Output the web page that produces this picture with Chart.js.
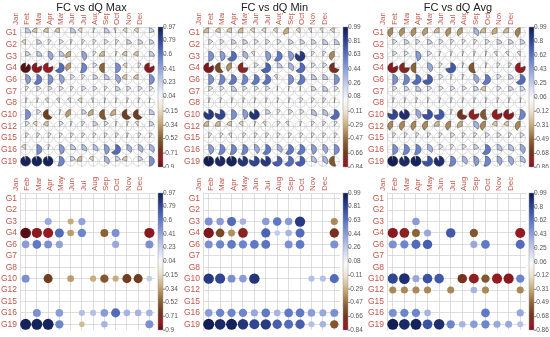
<!DOCTYPE html>
<html>
<head>
<meta charset="utf-8">
<script src="https://cdn.jsdelivr.net/npm/chart.js@4.4.1/dist/chart.umd.min.js"></script>
<style>
  body { margin: 0; background: #fff; }
  #wrap { position: relative; width: 550px; height: 337px; overflow: hidden; }
  #wrap canvas { position: absolute; }
</style>
</head>
<body>
<div id="wrap"></div>
<script>
const months = ['Jan', 'Feb', 'Mar', 'Apr', 'May', 'Jun', 'Jul', 'Aug', 'Sep', 'Oct', 'Nov', 'Dec'];
const groups = ['G1', 'G2', 'G3', 'G4', 'G6', 'G7', 'G8', 'G10', 'G12', 'G15', 'G16', 'G19'];
const titles = ['FC vs dQ Max', 'FC vs dQ Min', 'FC vs dQ Avg'];

// correlation values, one row per group, Jan..Dec
const maxVals = [
  [0.25, -0.2, -0.2, -0.2, 0.25, -0.15, 0.05, 0.25, -0.05, -0.15, -0.15, 0.2],
  [-0.15, 0.2, 0.1, 0.15, 0.05, 0.1, 0.1, 0.15, 0.1, 0.2, 0.2, 0.2],
  [0.2, 0.25, 0.4, 0.25, -0.3, 0.42, 0.1, -0.25, 0.05, -0.2, -0.2, 0.25],
  [-0.9, -0.82, -0.8, 0.65, -0.35, 0.55, 0.15, -0.5, 0.5, -0.15, 0.1, -0.82],
  [0.45, 0.6, 0.5, 0.42, 0.15, 0.1, 0.2, 0.25, 0.4, -0.2, -0.2, 0.5],
  [0.1, 0.15, 0.15, 0.15, 0.1, 0.15, 0.15, 0.1, 0.2, 0.15, 0.15, 0.15],
  [0.05, 0.05, -0.1, -0.1, -0.1, -0.15, -0.05, 0.05, 0.05, 0.05, 0.05, 0.03],
  [0.5, 0.15, -0.65, 0.05, -0.35, 0.2, -0.3, -0.55, -0.3, -0.65, -0.65, 0.25],
  [0.15, -0.15, -0.2, 0.15, 0.05, 0.1, 0.2, 0.15, 0.05, 0.05, -0.1, 0.2],
  [0.1, 0.1, 0.1, 0.1, 0.1, 0.1, 0.1, 0.1, 0.1, 0.05, 0.1, 0.1],
  [-0.15, 0.5, 0.05, 0.45, 0.25, 0.3, 0.3, 0.45, 0.65, 0.35, 0.35, 0.35],
  [0.95, 0.95, 0.95, 0.55, 0.2, -0.25, -0.15, 0.35, 0.2, -0.2, 0.2, 0.5]
];
const minVals = [
  [-0.25, -0.2, -0.2, -0.25, -0.15, -0.15, -0.15, -0.3, -0.15, -0.1, -0.1, -0.15],
  [0.15, 0.15, 0.2, 0.2, 0.15, 0.15, 0.15, 0.2, 0.2, 0.2, 0.25, 0.25],
  [0.5, 0.45, 0.65, 0.35, -0.1, 0.45, 0.6, 0.45, 0.85, 0.1, 0.1, -0.4],
  [-0.84, -0.6, -0.38, -0.75, 0.15, 0.68, 0.25, 0.35, 0.65, 0.15, 0.15, -0.7],
  [0.5, 0.55, 0.6, 0.55, 0.6, 0.62, -0.1, 0.5, 0.6, 0.25, 0.25, 0.5],
  [0.15, 0.15, 0.25, 0.15, 0.15, 0.15, 0.02, 0.02, 0.02, 0.2, 0.25, 0.15],
  [0.05, 0.05, 0.05, 0.05, 0.05, 0.05, 0.05, 0.05, 0.1, 0.1, 0.1, 0.03],
  [0.85, 0.8, 0.5, 0.45, 0.87, 0.2, 0.1, 0.15, 0.15, 0.3, 0.3, 0.65],
  [-0.25, -0.25, -0.2, -0.15, 0.05, -0.1, 0.1, -0.1, 0.05, 0.1, 0.1, 0.1],
  [0.1, 0.1, -0.1, 0.1, 0.1, 0.1, 0.1, 0.1, 0.1, 0.1, 0.1, 0.1],
  [0.45, 0.55, 0.55, 0.55, 0.4, 0.6, 0.35, 0.6, 0.6, 0.45, 0.4, 0.5],
  [0.97, 0.92, 0.95, 0.87, 0.8, 0.85, 0.7, 0.65, 0.7, 0.3, 0.35, -0.55]
];
const avgVals = [
  [-0.4, -0.38, -0.38, -0.35, -0.25, -0.38, -0.35, 0.35, -0.25, -0.3, -0.25, -0.42],
  [0.15, 0.2, 0.15, 0.2, 0.15, 0.1, 0.1, 0.1, 0.15, 0.2, 0.2, 0.2],
  [0.15, 0.15, 0.45, 0.15, 0.05, 0.05, 0.05, 0.05, 0.05, -0.1, -0.1, -0.1],
  [-0.82, -0.75, -0.5, 0.4, 0.1, 0.72, 0.05, -0.55, 0.05, 0.1, 0.1, -0.8],
  [0.5, 0.55, 0.65, 0.7, 0.15, 0.05, 0.05, 0.4, 0.6, 0.15, 0.2, 0.65],
  [0.15, 0.2, 0.25, 0.15, 0.15, 0.15, 0.15, 0.2, -0.2, 0.15, 0.2, 0.2],
  [0.05, 0.05, 0.05, 0.05, 0.05, 0.05, 0.05, 0.05, 0.05, 0.05, 0.05, 0.03],
  [0.8, 0.9, 0.4, 0.75, 0.72, 0.05, -0.7, -0.78, -0.55, -0.8, -0.82, 0.55],
  [-0.4, -0.4, -0.4, -0.4, -0.25, -0.4, -0.3, 0.35, -0.4, -0.2, -0.2, -0.4],
  [0.1, 0.1, 0.1, 0.1, 0.1, 0.15, 0.1, 0.1, 0.15, 0.15, 0.1, 0.15],
  [0.5, 0.55, 0.55, 0.35, 0.15, 0.1, 0.15, 0.2, 0.6, 0.3, 0.3, 0.4],
  [0.97, 0.92, 0.95, 0.75, 0.9, 0.55, 0.35, 0.45, 0.55, 0.4, 0.4, 0.3]
];

// significant cells (shown in the lower plots), 1 = significant
const maxSig = ['000000000000', '000000000000', '001011000000', '111111011001', '111100001001', '000000000000',
                '000000000000', '101010111111', '000000000000', '000000000000', '010101111111', '111101010001'];
const minSig = ['000000000000', '000000000000', '111101111001', '111101111001', '111111011001', '000000000000',
                '000000000000', '111110000111', '000000000000', '000000000000', '111111111111', '111111111111'];
const avgSig = ['000000000000', '000000000000', '001000000000', '111101010001', '111100011001', '000000000000',
                '000000000000', '111110111111', '111101011001', '000000000000', '111100001001', '111111111111'];

// colour bar ticks
const maxTicks = [0.97, 0.79, 0.6, 0.41, 0.23, 0.04, -0.15, -0.34, -0.52, -0.71, -0.9];
const minTicks = [0.99, 0.81, 0.63, 0.44, 0.26, 0.08, -0.11, -0.29, -0.47, -0.66, -0.84];
const avgTicks = [0.99, 0.8, 0.62, 0.43, 0.25, 0.06, -0.12, -0.31, -0.49, -0.68, -0.86];

const panelVals = [maxVals, minVals, avgVals];
const panelSig = [maxSig, minSig, avgSig];
const panelTicks = [maxTicks, minTicks, avgTicks];

const FONT = "'Liberation Sans', Arial, sans-serif";
const labelColor = '#c4564a';
const gridColor = '#d6d6d6';

// colour ramp: dark red -> brown -> tan -> white -> blue -> navy
const stops = [
  [-0.92, [74, 13, 18]],
  [-0.8, [150, 26, 34]],
  [-0.66, [110, 58, 30]],
  [-0.5, [140, 99, 54]],
  [-0.32, [196, 166, 115]],
  [-0.12, [236, 227, 207]],
  [0.04, [251, 251, 251]],
  [0.22, [204, 211, 238]],
  [0.42, [147, 163, 218]],
  [0.6, [95, 121, 198]],
  [0.78, [52, 73, 154]],
  [0.99, [14, 26, 77]]
];
function corrColor(v) {
  if (v <= stops[0][0]) return 'rgb(' + stops[0][1].join(',') + ')';
  for (let i = 1; i < stops.length; i++) {
    if (v <= stops[i][0]) {
      const a = stops[i - 1], b = stops[i];
      const t = (v - a[0]) / (b[0] - a[0]);
      const c = a[1].map((x, k) => Math.round(x + (b[1][k] - x) * t));
      return 'rgb(' + c.join(',') + ')';
    }
  }
  return 'rgb(' + stops[stops.length - 1][1].join(',') + ')';
}

// pies for the upper plots
const pieGlyphs = {
  id: 'pieGlyphs',
  afterDatasetsDraw(chart, args, opts) {
    if (!opts.on) return;
    const ctx = chart.ctx;
    const cw = chart.scales.x.width / months.length;
    const chh = chart.scales.y.height / groups.length;
    const rad = 0.44 * Math.min(cw, chh);
    const ds = chart.data.datasets[0];
    chart.getDatasetMeta(0).data.forEach((pt, i) => {
      const v = ds.data[i].v;
      ctx.save();
      ctx.beginPath();
      ctx.arc(pt.x, pt.y, rad, 0, Math.PI * 2);
      ctx.strokeStyle = '#c4c4c4';
      ctx.lineWidth = 0.6;
      ctx.stroke();
      ctx.beginPath();
      ctx.moveTo(pt.x, pt.y);
      ctx.arc(pt.x, pt.y, rad, -Math.PI / 2, -Math.PI / 2 + 2 * Math.PI * v, v < 0);
      ctx.closePath();
      ctx.fillStyle = corrColor(v);
      ctx.fill();
      ctx.strokeStyle = 'rgba(50,50,50,0.7)';
      ctx.lineWidth = 0.6;
      ctx.stroke();
      ctx.restore();
    });
  }
};

// colour bar drawn along the cb scale
const colorBar = {
  id: 'colorBar',
  afterDraw(chart) {
    const cb = chart.scales.cb;
    const ctx = chart.ctx;
    const x0 = chart.chartArea.right + 3;
    ctx.save();
    for (let py = cb.top; py < cb.bottom; py++) {
      ctx.fillStyle = corrColor(cb.getValueForPixel(py + 0.5));
      ctx.fillRect(x0, py, 5, 1);
    }
    ctx.strokeStyle = '#9a9a9a';
    ctx.lineWidth = 0.5;
    ctx.strokeRect(x0, cb.top, 5, cb.bottom - cb.top);
    ctx.strokeStyle = '#666';
    cb.ticks.forEach(t => {
      const y = cb.getPixelForValue(t.value);
      ctx.beginPath();
      ctx.moveTo(x0 + 5, y);
      ctx.lineTo(x0 + 7, y);
      ctx.stroke();
    });
    ctx.restore();
  }
};

const cols = [
  { left: 0, w: 183, gridL: 20, cbW: 28 },
  { left: 183, w: 183, gridL: 20, cbW: 26 },
  { left: 366, w: 184, gridL: 21, cbW: 24 }
];
const rows = [
  { top: 0, h: 168, xH: 14, padB: 1, pies: true },
  { top: 168, h: 169, xH: 25, padB: 7, pies: false }
];
const bubbleMax = 5.6;

function noPadV(s) { s.paddingTop = 0; s.paddingBottom = 0; }

const wrap = document.getElementById('wrap');
rows.forEach((R, ri) => {
  cols.forEach((C, ci) => {
    const cv = document.createElement('canvas');
    cv.width = C.w;
    cv.height = R.h;
    cv.style.left = C.left + 'px';
    cv.style.top = R.top + 'px';
    wrap.appendChild(cv);

    const vals = panelVals[ci], sig = panelSig[ci], ticks = panelTicks[ci];
    const points = [];
    groups.forEach((g, gi) => {
      months.forEach((m, mi) => {
        const v = vals[gi][mi];
        if (R.pies) points.push({ x: m, y: g, v: v, r: 0 });
        else if (sig[gi][mi] === '1') points.push({ x: m, y: g, v: v, r: bubbleMax * Math.sqrt(Math.abs(v)) });
      });
    });

    new Chart(cv.getContext('2d'), {
      type: 'bubble',
      data: {
        datasets: [{
          data: points,
          backgroundColor: c => corrColor(c.raw ? c.raw.v : 0),
          borderWidth: 0
        }]
      },
      options: {
        responsive: false,
        animation: false,
        events: [],
        layout: { padding: { left: 0, right: 0, top: 0, bottom: R.padB } },
        plugins: {
          legend: { display: false },
          tooltip: { enabled: false },
          title: {
            display: R.pies,
            text: titles[ci],
            color: '#222',
            font: { family: FONT, size: 11, weight: 'normal', lineHeight: 1 },
            padding: { top: 2, bottom: 0 }
          },
          pieGlyphs: { on: R.pies }
        },
        scales: {
          x: {
            type: 'category',
            labels: months,
            position: 'top',
            offset: true,
            afterFit: s => { s.height = R.xH; s.paddingLeft = 0; s.paddingRight = 0; },
            grid: { color: gridColor, lineWidth: 0.8, drawTicks: false },
            border: { color: gridColor, width: 0.8 },
            ticks: { color: labelColor, minRotation: 90, maxRotation: 90, padding: 2, autoSkip: false,
                     font: { family: FONT, size: 8 } }
          },
          y: {
            type: 'category',
            labels: groups,
            offset: true,
            afterFit: s => { s.width = C.gridL; noPadV(s); },
            grid: { color: gridColor, lineWidth: 0.8, drawTicks: false },
            border: { color: gridColor, width: 0.8 },
            ticks: { color: labelColor, padding: 3, autoSkip: false, font: { family: FONT, size: 8.5 } }
          },
          cb: {
            type: 'linear',
            position: 'right',
            min: ticks[ticks.length - 1],
            max: ticks[0],
            afterFit: s => { s.width = C.cbW; noPadV(s); },
            afterBuildTicks: s => { s.ticks = ticks.map(v => ({ value: v })); },
            grid: { display: false, drawTicks: false },
            border: { display: false },
            ticks: { color: '#555', padding: 8, font: { family: FONT, size: 6.5 }, callback: v => String(v) }
          }
        }
      },
      plugins: [pieGlyphs, colorBar]
    });
  });
});
</script>
</body>
</html>
